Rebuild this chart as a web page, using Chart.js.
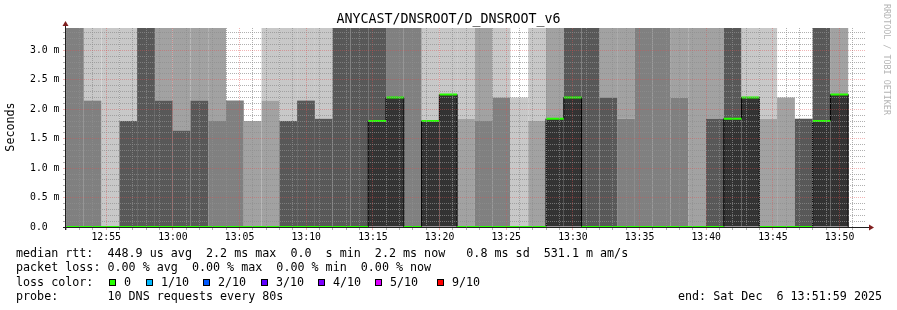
<!DOCTYPE html>
<html><head><meta charset="utf-8">
<script src="https://cdn.jsdelivr.net/npm/chart.js@4.4.1/dist/chart.umd.min.js"></script>
<style>html,body{margin:0;padding:0;background:#fff}#wrap{width:897px;height:310px}</style>
</head><body><div id="wrap"><canvas id="c" width="897" height="310"></canvas></div>
<script>
// ---------------- data ----------------
const chartTitle = "ANYCAST/DNSROOT/D_DNSROOT_v6";
const yAxisTitle = "Seconds";
const startTime = "12:51:59";
const endTime = "13:51:59";
const probeStep = 80; // seconds per probe round
const minorTickStep = 60; // seconds between minor x grid lines
// start time of each 80 s probe round
const slotStarts = [
  "12:51:59","12:53:19","12:54:39","12:55:59","12:57:19","12:58:39","12:59:59","13:01:19","13:02:39",
  "13:03:59","13:05:19","13:06:39","13:07:59","13:09:19","13:10:39","13:11:59","13:13:19","13:14:39",
  "13:15:59","13:17:19","13:18:39","13:19:59","13:21:19","13:22:39","13:23:59","13:25:19","13:26:39",
  "13:27:59","13:29:19","13:30:39","13:31:59","13:33:19","13:34:39","13:35:59","13:37:19","13:38:39",
  "13:39:59","13:41:19","13:42:39","13:43:59","13:45:19","13:46:39","13:47:59","13:49:19","13:50:39"
];
// median rtt per round (ms); null = no data
const medianRtt = [
  0,0,0,0,0,0,0,0,0,
  0,0,0,0,0,0,0,0,1.80,
  2.20,0,1.80,2.25,0,0,0,0,0,
  1.84,2.20,0,0,0,0,0,0,0,
  0,1.84,2.20,0,0,0,1.80,2.25,null
];
// rtt (ms) where the smoke density changes; null = one density for whole column
const smokeSplit = [
  null,2.15,null,1.80,null,2.15,1.64,2.15,1.80,
  2.15,1.80,2.15,1.80,2.15,1.84,null,null,null,
  null,null,null,null,1.84,1.80,2.20,2.20,1.80,
  null,null,null,2.20,1.84,null,null,2.20,null,
  1.84,null,null,1.84,2.20,1.84,null,null,null
];
// smoke density (0 = none ... 4 = densest) below / above the split
const smokeLower = [
  3,3,1,4,4,4,4,4,3,
  3,2,2,4,4,4,4,4,null,
  null,3,null,null,2,3,3,1,2,
  null,null,4,4,3,3,3,3,2,
  4,null,null,2,2,4,null,null,null
];
const smokeUpper = [
  3,1,1,1,4,2,2,2,2,
  0,0,1,1,1,1,4,4,4,
  3,3,1,1,1,2,1,0,1,
  2,4,4,2,2,3,3,2,2,
  2,4,1,1,0,0,4,2,null
];
const yMaxMs = 3.38;
const legendLines = [
  "median rtt:  448.9 us avg  2.2 ms max  0.0  s min  2.2 ms now   0.8 ms sd  531.1 m am/s",
  "packet loss: 0.00 % avg  0.00 % max  0.00 % min  0.00 % now",
  "loss color:",
  "probe:       10 DNS requests every 80s"
];
const lossLabels = ["0","1/10","2/10","3/10","4/10","5/10","9/10"];
const lossColors = ["#26ff00","#00b8ff","#0059ff","#5e00ff","#7e00ff","#dd00ff","#ff0000"];
const endLabel = "end: Sat Dec  6 13:51:59 2025";
const watermark = "RRDTOOL / TOBI OETIKER";

// ---------------- styles ----------------
const SHADES = ['rgba(255,255,255,0)','#c8c8c8','#a2a2a2','#808080','#585858'];
const MEDIAN_FILL = '#333333';
const GRID = 'rgba(143,143,143,0.7)';
const MGRID = 'rgba(222,79,79,0.42)';
const AXIS = '#1f1f1f';
const ARROW = '#801f1f';
const MONO = '"DejaVu Sans Mono"';

const toSec = s => { const p = s.split(':').map(Number); return p[0]*3600 + p[1]*60 + p[2]; };
const tStart = toSec(startTime), tEnd = toSec(endTime);
const slots = slotStarts.map(toSec);

const lowerData = [], lowerColors = [], upperData = [], upperColors = [];
const outline = [], medSegs = [];
let lastIdx = -1;
slots.forEach((s, i) => {
  const m = medianRtt[i];
  if (m === null) return;
  lastIdx = i;
  const cx = s + probeStep / 2;
  let split, lowC;
  if (m > 0) { split = m; lowC = MEDIAN_FILL; }
  else { split = smokeSplit[i] === null ? yMaxMs : smokeSplit[i]; lowC = SHADES[smokeLower[i]]; }
  lowerData.push({x: cx, y: [0, split]}); lowerColors.push(lowC);
  if (split < yMaxMs) { upperData.push({x: cx, y: [split, yMaxMs]}); upperColors.push(SHADES[smokeUpper[i]]); }
  outline.push({x: s, y: m});
  medSegs.push({x: s, y: m}, {x: s + probeStep, y: m}, {x: s + probeStep, y: null});
});
if (lastIdx >= 0) {
  const e = slots[lastIdx] + probeStep;
  outline.push({x: e, y: medianRtt[lastIdx]}, {x: e, y: 0});
}

const pad2 = n => String(n).padStart(2, '0');
// Chart.js sizes bars from the smallest gap it sees, which is the 60 s grid tick spacing,
// so scale the bar to span one full probe step.
const barPct = probeStep / minorTickStep;

const decor = {
  id: 'decor',
  afterDraw(chart) {
    const {ctx, chartArea: a} = chart;
    ctx.save();
    ctx.strokeStyle = AXIS; ctx.lineWidth = 1;
    ctx.beginPath();
    ctx.moveTo(a.left - 3, a.bottom + 0.5); ctx.lineTo(a.right + 4, a.bottom + 0.5);
    ctx.moveTo(a.left - 0.5, a.bottom + 3); ctx.lineTo(a.left - 0.5, a.top - 3);
    ctx.stroke();
    ctx.fillStyle = ARROW;
    ctx.beginPath();
    ctx.moveTo(a.right + 3, a.bottom - 2.5); ctx.lineTo(a.right + 3, a.bottom + 3.5); ctx.lineTo(a.right + 8, a.bottom + 0.5); ctx.closePath(); ctx.fill();
    ctx.beginPath();
    ctx.moveTo(a.left - 3.5, a.top - 2); ctx.lineTo(a.left + 2.5, a.top - 2); ctx.lineTo(a.left - 0.5, a.top - 7); ctx.closePath(); ctx.fill();
    ctx.fillStyle = '#000';
    ctx.textBaseline = 'middle';
    ctx.textAlign = 'center';
    ctx.font = '13.3px ' + MONO;
    ctx.fillText(chartTitle, 448.5, 20);
    ctx.save();
    ctx.translate(11, 127); ctx.rotate(-Math.PI / 2);
    ctx.font = '11.7px ' + MONO;
    ctx.fillText(yAxisTitle, 0, 0);
    ctx.restore();
    ctx.textAlign = 'left';
    ctx.font = '11.7px ' + MONO;
    const ly = [254, 268, 282.5, 296.5];
    legendLines.forEach((t, i) => ctx.fillText(t, 16, ly[i]));
    const boxX = [109, 146, 203, 261, 318, 375, 437];
    lossLabels.forEach((lab, i) => {
      ctx.fillStyle = lossColors[i];
      ctx.fillRect(boxX[i] + 0.5, 279.5, 6, 6);
      ctx.strokeStyle = '#000'; ctx.lineWidth = 1;
      ctx.strokeRect(boxX[i] + 0.5, 279.5, 6, 6);
      ctx.fillStyle = '#000';
      ctx.fillText(lab, boxX[i] + 15, ly[2]);
    });
    ctx.fillText(endLabel, 678, ly[3]);
    ctx.save();
    ctx.translate(886, 4); ctx.rotate(Math.PI / 2);
    ctx.fillStyle = '#b4b4b4';
    ctx.font = '8.4px ' + MONO;
    ctx.textBaseline = 'middle';
    ctx.fillText(watermark, 0, 0);
    ctx.restore();
    ctx.restore();
  }
};

new Chart(document.getElementById('c'), {
  type: 'bar',
  data: {
    datasets: [
      {type: 'line', data: medSegs, borderColor: '#26ff00', borderWidth: 2, pointRadius: 0, spanGaps: false, order: 0, borderCapStyle: 'butt'},
      {type: 'line', data: outline, borderColor: '#000', borderWidth: 1, pointRadius: 0, stepped: 'before', order: 1},
      {type: 'bar', data: lowerData, backgroundColor: lowerColors, borderWidth: 0, grouped: false, barPercentage: barPct, categoryPercentage: 1, order: 2},
      {type: 'bar', data: upperData, backgroundColor: upperColors, borderWidth: 0, grouped: false, barPercentage: barPct, categoryPercentage: 1, order: 3}
    ]
  },
  options: {
    responsive: false, animation: false, devicePixelRatio: 1, events: [],
    layout: {padding: {top: 28, right: 31, left: 0, bottom: 0}},
    plugins: {legend: {display: false}, tooltip: {enabled: false}, title: {display: false}},
    scales: {
      x: {
        type: 'linear', min: tStart, max: tEnd, offset: false, z: 1,
        afterFit(s) { s.height = 83; },
        afterBuildTicks(s) {
          const t = [];
          for (let v = Math.ceil(s.min / minorTickStep) * minorTickStep; v <= s.max; v += minorTickStep) t.push({value: v});
          s.ticks = t;
        },
        ticks: {
          autoSkip: false, maxRotation: 0, minRotation: 0, padding: 1.5, color: '#000',
          font: {family: 'DejaVu Sans Mono', size: 9.8},
          callback: v => (v % 300 === 0) ? pad2(Math.floor(v / 3600)) + ':' + pad2(Math.floor(v % 3600 / 60)) : ''
        },
        grid: {
          z: 1, offset: false, lineWidth: 1, tickLength: 3,
          color: c => (c.tick && c.tick.value % 300 === 0) ? MGRID : GRID,
          tickColor: c => (c.tick && c.tick.value % 300 === 0) ? MGRID : GRID
        },
        border: {display: false, dash: [1, 1]}
      },
      y: {
        type: 'linear', min: 0, max: yMaxMs, z: 1,
        afterFit(s) { s.width = 66; },
        afterBuildTicks(s) {
          const t = [];
          for (let k = 0; k / 10 <= s.max + 1e-9; k++) t.push({value: k / 10});
          s.ticks = t;
        },
        ticks: {
          autoSkip: false, padding: 3.5, color: '#000',
          font: {family: 'DejaVu Sans Mono', size: 9.8},
          callback: v => { const k = Math.round(v * 10); return k % 5 === 0 ? (k === 0 ? '0.0  ' : (k / 10).toFixed(1) + ' m') : ''; }
        },
        grid: {
          z: 1, lineWidth: 1, tickLength: 3,
          color: c => (c.tick && Math.round(c.tick.value * 10) % 5 === 0) ? MGRID : GRID,
          tickColor: c => (c.tick && Math.round(c.tick.value * 10) % 5 === 0) ? MGRID : GRID
        },
        border: {display: false, dash: [1, 1]}
      }
    }
  },
  plugins: [decor]
});
</script></body></html>
